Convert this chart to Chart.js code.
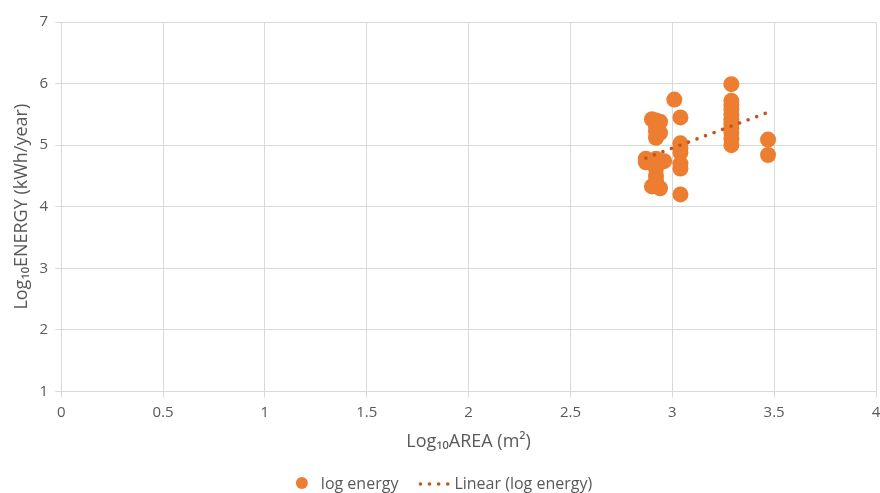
<!DOCTYPE html>
<html>
<head>
<meta charset="utf-8">
<script src="https://cdn.jsdelivr.net/npm/chart.js@4/dist/chart.umd.min.js"></script>
<style>
html,body{margin:0;padding:0;background:#fff;overflow:hidden;}
#wrap{width:880px;height:493px;overflow:hidden;}
canvas{display:block;}
</style>
</head>
<body>
<div id="wrap"><canvas id="c" width="884" height="493"></canvas></div>
<script>
// log10 area (x) and log10 energy (y)
const areaX = [2.87, 2.87, 2.90, 2.90, 2.92, 2.92, 2.92, 2.92, 2.92, 2.92, 2.92, 2.92,
               2.94, 2.94, 2.94, 2.94, 2.96, 3.01,
               3.04, 3.04, 3.04, 3.04, 3.04, 3.04, 3.04,
               3.29, 3.29, 3.29, 3.29, 3.29, 3.29, 3.29, 3.29, 3.29, 3.29, 3.29,
               3.47, 3.47];
const energyY = [4.78, 4.72, 5.42, 4.33, 5.40, 5.30, 5.22, 5.12, 4.78, 4.62, 4.50, 4.42,
                 5.38, 5.20, 4.74, 4.30, 4.74, 5.74,
                 5.45, 5.03, 4.95, 4.88, 4.70, 4.62, 4.20,
                 5.99, 5.72, 5.65, 5.58, 5.50, 5.42, 5.35, 5.28, 5.20, 5.10, 5.00,
                 5.09, 4.84];
// linear trendline endpoints
const trendX = [2.87, 3.46];
const trendY = [4.79, 5.52];
const seriesNames = ['log energy', 'Linear (log energy)'];
const xTitle = 'Log\u2081\u2080AREA (m\u00b2)';
const yTitle = 'Log\u2081\u2080ENERGY (kWh/year)';

const pts = areaX.map((x, i) => ({x: x, y: energyY[i]}));
const trend = trendX.map((x, i) => ({x: x, y: trendY[i]}));
const FONT = '"Open Sans", "Liberation Sans", sans-serif';
const TXT = '#595959';
const GRID = '#d9d9d9';
const DOT_DASH = [0.1, 9];

// legend drawn below the plot, using the datasets' own labels and colours
const bottomLegend = {
  id: 'bottomLegend',
  afterDraw(chart) {
    const ctx = chart.ctx;
    const ds = chart.data.datasets;
    ctx.save();
    ctx.font = '16px ' + FONT;
    ctx.textBaseline = 'middle';
    ctx.textAlign = 'left';
    const cy = chart.height - 10;
    const w1 = ctx.measureText(ds[0].label).width;
    const w2 = ctx.measureText(ds[1].label).width;
    const total = 12 + 13 + w1 + 22 + 28 + 6 + w2;
    let x = 444 - total / 2;
    // circle marker
    ctx.fillStyle = ds[0].backgroundColor;
    ctx.beginPath();
    ctx.arc(x + 6, cy, 6, 0, Math.PI * 2);
    ctx.fill();
    x += 12 + 13;
    ctx.fillStyle = TXT;
    ctx.fillText(ds[0].label, x, cy + 1);
    x += w1 + 22;
    // dotted line marker
    ctx.strokeStyle = ds[1].borderColor;
    ctx.lineWidth = ds[1].borderWidth;
    ctx.lineCap = 'round';
    ctx.setLineDash(DOT_DASH);
    ctx.beginPath();
    ctx.moveTo(x, cy + 1);
    ctx.lineTo(x + 28, cy + 1);
    ctx.stroke();
    ctx.setLineDash([]);
    x += 28 + 6;
    ctx.fillStyle = TXT;
    ctx.fillText(ds[1].label, x, cy + 1);
    ctx.restore();
  }
};

new Chart(document.getElementById('c'), {
  type: 'scatter',
  data: {
    datasets: [
      {
        label: seriesNames[0],
        data: pts,
        backgroundColor: '#ED7D31',
        borderColor: '#ED7D31',
        pointRadius: 8,
        pointHoverRadius: 8,
        pointBorderWidth: 0,
        order: 2
      },
      {
        label: seriesNames[1],
        type: 'line',
        data: trend,
        showLine: true,
        borderColor: '#C0561A',
        backgroundColor: '#C0561A',
        borderWidth: 3.5,
        borderDash: DOT_DASH,
        borderCapStyle: 'round',
        pointRadius: 0,
        fill: false,
        order: 1
      }
    ]
  },
  options: {
    responsive: false,
    animation: false,
    devicePixelRatio: 1,
    layout: {padding: {left: 11, right: 0, top: 22, bottom: 40}},
    scales: {
      x: {
        type: 'linear',
        min: 0, max: 4,
        ticks: {stepSize: 0.5, color: TXT, font: {family: FONT, size: 15, lineHeight: 2}, padding: 0,
                callback: (v) => String(v)},
        grid: {color: GRID, tickLength: 6, lineWidth: 1},
        border: {color: GRID},
        title: {display: true, text: xTitle, color: TXT, font: {family: FONT, size: 18}, padding: {top: 4, bottom: 0}}
      },
      y: {
        min: 1, max: 7,
        ticks: {stepSize: 1, color: TXT, font: {family: FONT, size: 15}, padding: 7},
        grid: {color: GRID, tickLength: 6, lineWidth: 1},
        border: {color: GRID},
        title: {display: true, text: yTitle, color: TXT, font: {family: FONT, size: 18}, padding: {top: 0, bottom: 0}}
      }
    },
    plugins: {
      legend: {display: false},
      tooltip: {enabled: false}
    }
  },
  plugins: [bottomLegend]
});
</script>
</body>
</html>
